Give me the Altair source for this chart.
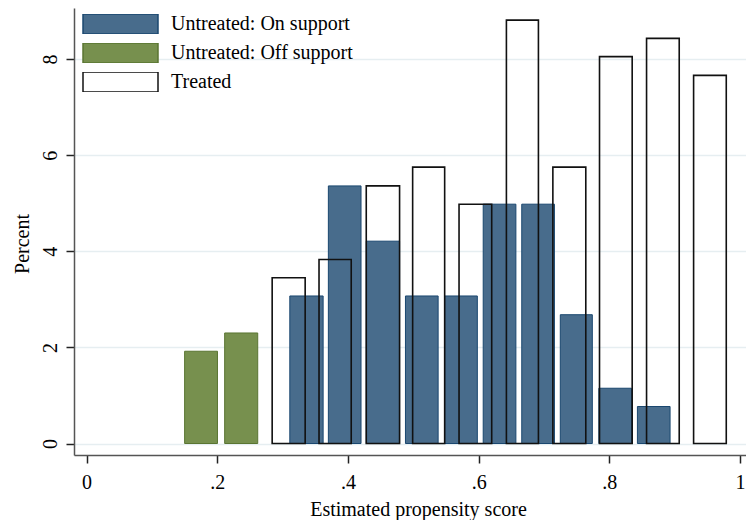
import altair as alt
import pandas as pd

# ---- data ----
groups = ["Untreated: On support", "Untreated: Off support", "Treated"]

on_left = [0.311, 0.370, 0.428, 0.488, 0.548, 0.607, 0.666, 0.725, 0.784, 0.843]
on_right = [0.362, 0.420, 0.479, 0.538, 0.598, 0.657, 0.716, 0.774, 0.834, 0.893]
on_pct = [3.07, 5.36, 4.21, 3.07, 3.07, 4.98, 4.98, 2.68, 1.15, 0.77]

off_left = [0.150, 0.2113]
off_right = [0.2003, 0.2619]
off_pct = [1.92, 2.30]

tr_left = [0.284, 0.3557, 0.428, 0.499, 0.570, 0.6425, 0.7136, 0.785, 0.857, 0.929]
tr_right = [0.3345, 0.405, 0.479, 0.548, 0.620, 0.6915, 0.764, 0.835, 0.907, 0.979]
tr_pct = [3.45, 3.83, 5.36, 5.75, 4.98, 8.81, 5.75, 8.05, 8.43, 7.66]

x_ticks = [0, 0.2, 0.4, 0.6, 0.8, 1]
y_ticks = [0, 2, 4, 6, 8]

fills = ["#486c8c", "#77904e", "transparent"]
strokes = ["#1a476f", "#5a7532", "#111111"]

untreated = pd.DataFrame({
    "group": [groups[0]] * len(on_left) + [groups[1]] * len(off_left),
    "x0": on_left + off_left,
    "x1": on_right + off_right,
    "pct": on_pct + off_pct,
})
treated = pd.DataFrame({
    "group": [groups[2]] * len(tr_left),
    "x0": tr_left,
    "x1": tr_right,
    "pct": tr_pct,
})

FONT = "Liberation Serif"
FS = 20

legend = alt.Legend(
    orient="none", legendX=8, legendY=6, title=None,
    symbolType="M-1,-0.2667H1V0.2667H-1Z", symbolSize=5625,
    clipHeight=20, rowPadding=9, labelOffset=12,
    labelFont=FONT, labelFontSize=FS, labelColor="black",
    symbolStrokeWidth=1.5, labelLimit=0, padding=0,
)

x_enc = alt.X(
    "x0:Q",
    scale=alt.Scale(domain=[-0.0193, 1.0092], nice=False, zero=False),
    axis=alt.Axis(
        values=x_ticks, grid=False,
        labelExpr="datum.value > 0 && datum.value < 1 ? substring(format(datum.value, '.1f'), 1) : format(datum.value, 'd')",
        tickSize=8, tickColor="#222222", tickWidth=1.5,
        domainColor="#555555", domainWidth=1.5,
        labelFont=FONT, labelFontSize=FS, labelColor="black",
        labelBaseline="alphabetic", labelPadding=25, labelFlush=False,
        title="Estimated propensity score", titleFont=FONT, titleFontSize=FS,
        titleFontWeight="normal", titleColor="black",
        titleX=344, titleY=60, titleBaseline="alphabetic", titleAlign="center",
    ),
)
y_enc = alt.Y(
    "pct:Q",
    scale=alt.Scale(domain=[-0.239, 9.062], nice=False, zero=False),
    axis=alt.Axis(
        values=y_ticks, grid=True, gridColor="#e6eef1", gridWidth=1.5,
        tickSize=8, tickColor="#222222", tickWidth=1.5,
        domainColor="#555555", domainWidth=1.5,
        labelAngle=270, labelAlign="center", labelBaseline="alphabetic",
        labelPadding=10, labelFont=FONT, labelFontSize=FS, labelColor="black",
        labelFlush=False,
        title="Percent", titleFont=FONT, titleFontSize=FS, titleFontWeight="normal",
        titleColor="black", titleAngle=270, titleX=-45.5, titleY=235.5,
        titleBaseline="alphabetic", titleAlign="center",
    ),
)

fill_enc = alt.Fill("group:N", scale=alt.Scale(domain=groups, range=fills), legend=legend)
stroke_enc = alt.Stroke("group:N", scale=alt.Scale(domain=groups, range=strokes), legend=legend)

base_untreated = alt.Chart(untreated).mark_bar(strokeWidth=1, opacity=1).encode(
    x=x_enc, x2="x1:Q", y=y_enc, y2=alt.datum(0), fill=fill_enc, stroke=stroke_enc,
)
base_treated = alt.Chart(treated).mark_bar(strokeWidth=1.6, opacity=1).encode(
    x=x_enc, x2="x1:Q", y=y_enc, y2=alt.datum(0), fill=fill_enc, stroke=stroke_enc,
)

chart = alt.layer(base_untreated, base_treated).properties(
    width=672, height=447,
    autosize=alt.AutoSizeParams(type="none"),
    padding={"left": 66, "top": 0, "right": 0, "bottom": 65},
    background="white",
).configure_view(stroke=None)

chart.save("out.html", embed_options={"renderer": "svg", "actions": False})
